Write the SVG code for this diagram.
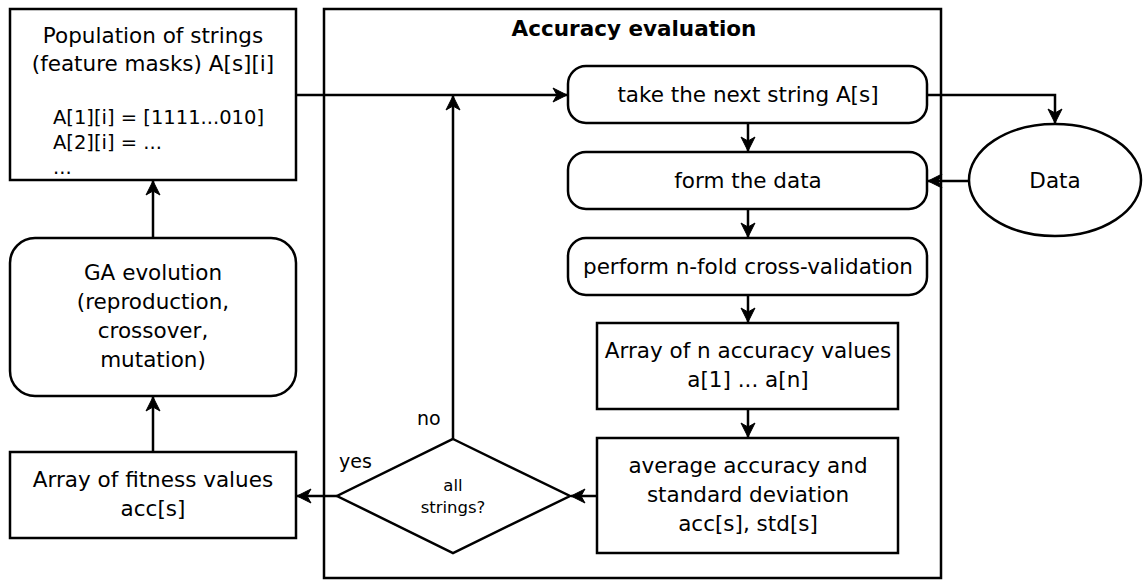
<svg xmlns="http://www.w3.org/2000/svg" width="1143" height="581" viewBox="0 0 1143 581">
<style>
  .box { fill: #ffffff; stroke: #000000; stroke-width: 2.5; }
  .cn { fill: none; stroke: #000000; stroke-width: 2.5; }
  .t { font-family: "DejaVu Sans", Verdana, sans-serif; font-size: 21.5px; fill: #000000; text-anchor: middle; }
  .tl { font-family: "DejaVu Sans", Verdana, sans-serif; font-size: 19.5px; fill: #000000; }
  .ts { font-family: "DejaVu Sans", Verdana, sans-serif; font-size: 16.5px; fill: #000000; text-anchor: middle; }
  .lbl { font-family: "DejaVu Sans", Verdana, sans-serif; font-size: 19px; fill: #000000; }
  .title { font-family: "DejaVu Sans", Verdana, sans-serif; font-size: 21.5px; font-weight: bold; fill: #000000; text-anchor: middle; }
</style>
<defs>
  <marker id="arr" viewBox="0 0 16 16" refX="15" refY="8" markerWidth="16" markerHeight="16" markerUnits="userSpaceOnUse" orient="auto">
    <path d="M1,1 L15,8 L1,15 L5,8 Z" fill="#000000" stroke="#000000" stroke-width="1" stroke-linejoin="miter"/>
  </marker>
</defs>

<g id="container">
  <rect class="box" x="324" y="9" width="617" height="569"/>
  <text class="title" x="634" y="36">Accuracy evaluation</text>
</g>

<g id="population">
  <rect class="box" x="10" y="9" width="286" height="171"/>
  <text class="t" x="153" y="43">Population of strings</text>
  <text class="t" x="153" y="71">(feature masks) A[s][i]</text>
  <text class="tl" x="53" y="124">A[1][i] = [1111...010]</text>
  <text class="tl" x="53" y="149">A[2][i] = ...</text>
  <text class="tl" x="53" y="174">...</text>
</g>

<g id="ga">
  <rect class="box" x="10" y="238" width="286" height="158" rx="25" ry="25"/>
  <text class="t" x="153" y="280">GA evolution</text>
  <text class="t" x="153" y="309">(reproduction,</text>
  <text class="t" x="153" y="338">crossover,</text>
  <text class="t" x="153" y="367">mutation)</text>
</g>

<g id="fitness">
  <rect class="box" x="10" y="452" width="286" height="86"/>
  <text class="t" x="153" y="487">Array of fitness values</text>
  <text class="t" x="153" y="516">acc[s]</text>
</g>

<g id="take">
  <rect class="box" x="568" y="66" width="359" height="57" rx="18" ry="18"/>
  <text class="t" x="748" y="102">take the next string A[s]</text>
</g>

<g id="form">
  <rect class="box" x="568" y="152" width="359" height="57" rx="18" ry="18"/>
  <text class="t" x="748" y="188">form the data</text>
</g>

<g id="perform">
  <rect class="box" x="568" y="238" width="359" height="57" rx="18" ry="18"/>
  <text class="t" x="748" y="274">perform n-fold cross-validation</text>
</g>

<g id="arrayn">
  <rect class="box" x="597" y="323" width="301" height="86"/>
  <text class="t" x="748" y="358">Array of n accuracy values</text>
  <text class="t" x="748" y="387">a[1] ... a[n]</text>
</g>

<g id="average">
  <rect class="box" x="597" y="438" width="301" height="115"/>
  <text class="t" x="748" y="473">average accuracy and</text>
  <text class="t" x="748" y="502">standard deviation</text>
  <text class="t" x="748" y="531">acc[s], std[s]</text>
</g>

<g id="decision">
  <polygon class="box" points="453,439 570,496 453,553 337,496"/>
  <text class="ts" x="453" y="491">all</text>
  <text class="ts" x="453" y="513">strings?</text>
</g>

<g id="data">
  <ellipse class="box" cx="1055" cy="180" rx="86" ry="56"/>
  <text class="t" x="1055" y="188">Data</text>
</g>

<g id="connectors">
  <path class="cn" d="M296,95 L567,95" marker-end="url(#arr)"/>
  <path class="cn" d="M748,123 L748,151" marker-end="url(#arr)"/>
  <path class="cn" d="M748,209 L748,237" marker-end="url(#arr)"/>
  <path class="cn" d="M748,295 L748,322" marker-end="url(#arr)"/>
  <path class="cn" d="M748,409 L748,437" marker-end="url(#arr)"/>
  <path class="cn" d="M597,496 L571,496" marker-end="url(#arr)"/>
  <path class="cn" d="M337,496 L297,496" marker-end="url(#arr)"/>
  <path class="cn" d="M453,439 L453,96" marker-end="url(#arr)"/>
  <path class="cn" d="M927,95 L1055,95 L1055,123" marker-end="url(#arr)"/>
  <path class="cn" d="M969,181 L928,181" marker-end="url(#arr)"/>
  <path class="cn" d="M153,452 L153,397" marker-end="url(#arr)"/>
  <path class="cn" d="M153,238 L153,181" marker-end="url(#arr)"/>
  <text class="lbl" x="417" y="425">no</text>
  <text class="lbl" x="339" y="468">yes</text>
</g>
</svg>
